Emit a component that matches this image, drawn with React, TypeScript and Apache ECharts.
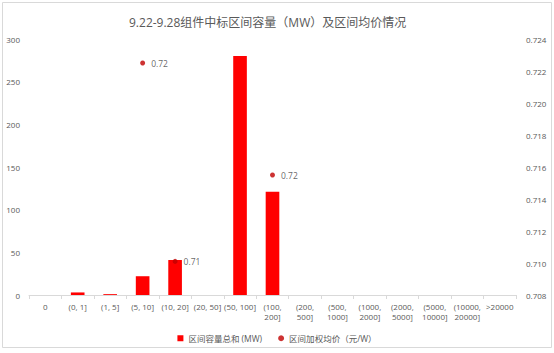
import React, { useEffect, useRef } from "react";
import * as echarts from "echarts";

const categories = [
  "0", "(0, 1]", "(1, 5]", "(5, 10]", "(10, 20]", "(20, 50]", "(50, 100]",
  "(100,\n200]", "(200,\n500]", "(500,\n1000]", "(1000,\n2000]", "(2000,\n5000]",
  "(5000,\n10000]", "(10000,\n20000]", ">20000",
];
const capacity = [0, 3, 1, 22, 41, 0, 280, 121, 0, 0, 0, 0, 0, 0, 0];
const price: (number | null)[] = [null, null, null, 0.7225, 0.7101, null, null, 0.7155, null, null, null, null, null, null, null];
const leftTicks = { min: 0, max: 300, interval: 50 };
const rightTicks = { min: 0.708, max: 0.724, interval: 0.002 };

const FONT = "'Open Sans', 'Noto Sans CJK SC', sans-serif";
const TXT = "#595959";

export default function App() {
  const ref = useRef<HTMLDivElement>(null);
  useEffect(() => {
    document.body.style.margin = "0";
    const chart = echarts.init(ref.current!, null, { renderer: "svg" });
    chart.setOption({
      animation: false,
      backgroundColor: "#fff",
      textStyle: { fontFamily: FONT },
      title: {
        text: "9.22-9.28组件中标区间容量（MW）及区间均价情况",
        left: 124,
        top: 11,
        textStyle: { fontSize: 12, fontWeight: "normal", color: TXT, fontFamily: FONT },
      },
      grid: { left: 29, right: 38, top: 39, bottom: 58, containLabel: false },
      legend: {
        top: 329,
        left: "center",
        itemWidth: 6,
        itemHeight: 6,
        itemGap: 16,
        textStyle: { fontSize: 8.5, color: TXT, fontFamily: FONT },
        data: [
          { name: "区间容量总和 (MW)", icon: "rect" },
          { name: "区间加权均价（元/W）", icon: "circle" },
        ],
      },
      xAxis: {
        type: "category",
        data: categories,
        axisLine: { lineStyle: { color: "#d9d9d9" } },
        axisTick: { show: true, alignWithLabel: false, length: 4, lineStyle: { color: "#d9d9d9" } },
        axisLabel: { color: TXT, fontSize: 8, interval: 0, lineHeight: 10, margin: 6 },
      },
      yAxis: [
        {
          type: "value",
          min: leftTicks.min,
          max: leftTicks.max,
          interval: leftTicks.interval,
          splitLine: { show: false },
          axisLine: { show: false },
          axisTick: { show: false },
          axisLabel: { color: TXT, fontSize: 8, margin: 9 },
        },
        {
          type: "value",
          min: rightTicks.min,
          max: rightTicks.max,
          interval: rightTicks.interval,
          splitLine: { show: false },
          axisLine: { show: false },
          axisTick: { show: false },
          axisLabel: { color: TXT, fontSize: 8, margin: 10, formatter: (v: number) => v.toFixed(3) },
        },
      ],
      series: [
        {
          name: "区间容量总和 (MW)",
          type: "bar",
          data: capacity,
          barWidth: "42%",
          itemStyle: { color: "#ff0000" },
          yAxisIndex: 0,
        },
        {
          name: "区间加权均价（元/W）",
          type: "scatter",
          data: price,
          yAxisIndex: 1,
          symbolSize: 5,
          itemStyle: { color: "#c00000" },
          label: {
            show: true,
            position: "right",
            distance: 6,
            fontSize: 8.5,
            color: "#404040",
            formatter: (p: any) => (p.value == null ? "" : Number(p.value).toFixed(2)),
          },
        },
      ],
      graphic: [
        {
          type: "rect",
          shape: { x: 2.5, y: 2.5, width: 549, height: 345 },
          style: { fill: "none", stroke: "#d9d9d9", lineWidth: 1 },
          silent: true,
        },
      ],
    });
    return () => chart.dispose();
  }, []);
  return <div ref={ref} style={{ position: "absolute", left: 0, top: 0, width: 554, height: 353 }} />;
}
